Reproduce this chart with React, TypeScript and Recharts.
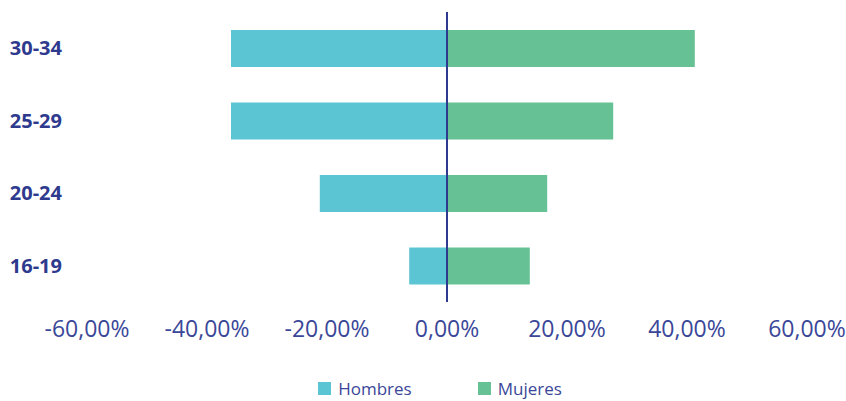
import React from 'react';
import { BarChart, Bar, XAxis, YAxis, Legend, ReferenceLine } from 'recharts';

// Grupos de edad, de arriba hacia abajo
const ages = ['30-34', '25-29', '20-24', '16-19'];
// Porcentajes (hombres se dibujan hacia la izquierda)
const hombres = [36.0, 36.0, 21.2, 6.3];
const mujeres = [41.3, 27.7, 16.7, 13.8];
const xTicks = [-60, -40, -20, 0, 20, 40, 60];

const data = ages.map((age, i) => ({
  age,
  Hombres: -hombres[i],
  Mujeres: mujeres[i],
}));

const BLUE = '#2E3A8E';
const TICK_BLUE = '#3A4799';

const fmt = (v: number) => `${v.toFixed(2).replace('.', ',')}%`;

const LegendContent = (props: any) => {
  const { payload = [] } = props;
  return (
    <div style={{ display: 'flex', justifyContent: 'center', gap: 66, height: 22 }}>
      {payload.map((p: any) => (
        <div key={p.value} style={{ display: 'flex', alignItems: 'center' }}>
          <span style={{ width: 13, height: 13, background: p.color, display: 'inline-block', marginRight: 7 }} />
          <span style={{ color: TICK_BLUE, fontSize: 17, fontFamily: 'Open Sans' }}>{p.value}</span>
        </div>
      ))}
    </div>
  );
};

export default function App() {
  return (
    <div style={{ position: 'absolute', left: 0, top: 0, background: '#fff' }}>
      <BarChart
        width={846}
        height={401}
        data={data}
        layout="vertical"
        stackOffset="sign"
        margin={{ top: 12, right: 39, left: 0, bottom: 0 }}
      >
        <XAxis
          type="number"
          domain={[-60, 60]}
          ticks={xTicks}
          tickFormatter={fmt}
          axisLine={false}
          tickLine={false}
          tickSize={0}
          tickMargin={19}
          height={77}
          interval={0}
          tick={{ fill: TICK_BLUE, fontSize: 23, fontFamily: 'Open Sans', fontWeight: 400 }}
        />
        <YAxis
          type="category"
          dataKey="age"
          width={87}
          axisLine={false}
          tickLine={false}
          tickSize={0}
          tickMargin={25}
          tick={{ fill: BLUE, fontSize: 20, fontFamily: 'Open Sans', fontWeight: 700 }}
        />
        <Legend
          content={<LegendContent />}
          wrapperStyle={{ top: 377, left: 0, width: 880 }}
        />
        <Bar dataKey="Hombres" stackId="a" fill="#5BC5D3" barSize={37} isAnimationActive={false} />
        <Bar dataKey="Mujeres" stackId="a" fill="#66C295" barSize={37} isAnimationActive={false} />
        <ReferenceLine x={0} stroke={BLUE} strokeWidth={2} />
      </BarChart>
    </div>
  );
}
